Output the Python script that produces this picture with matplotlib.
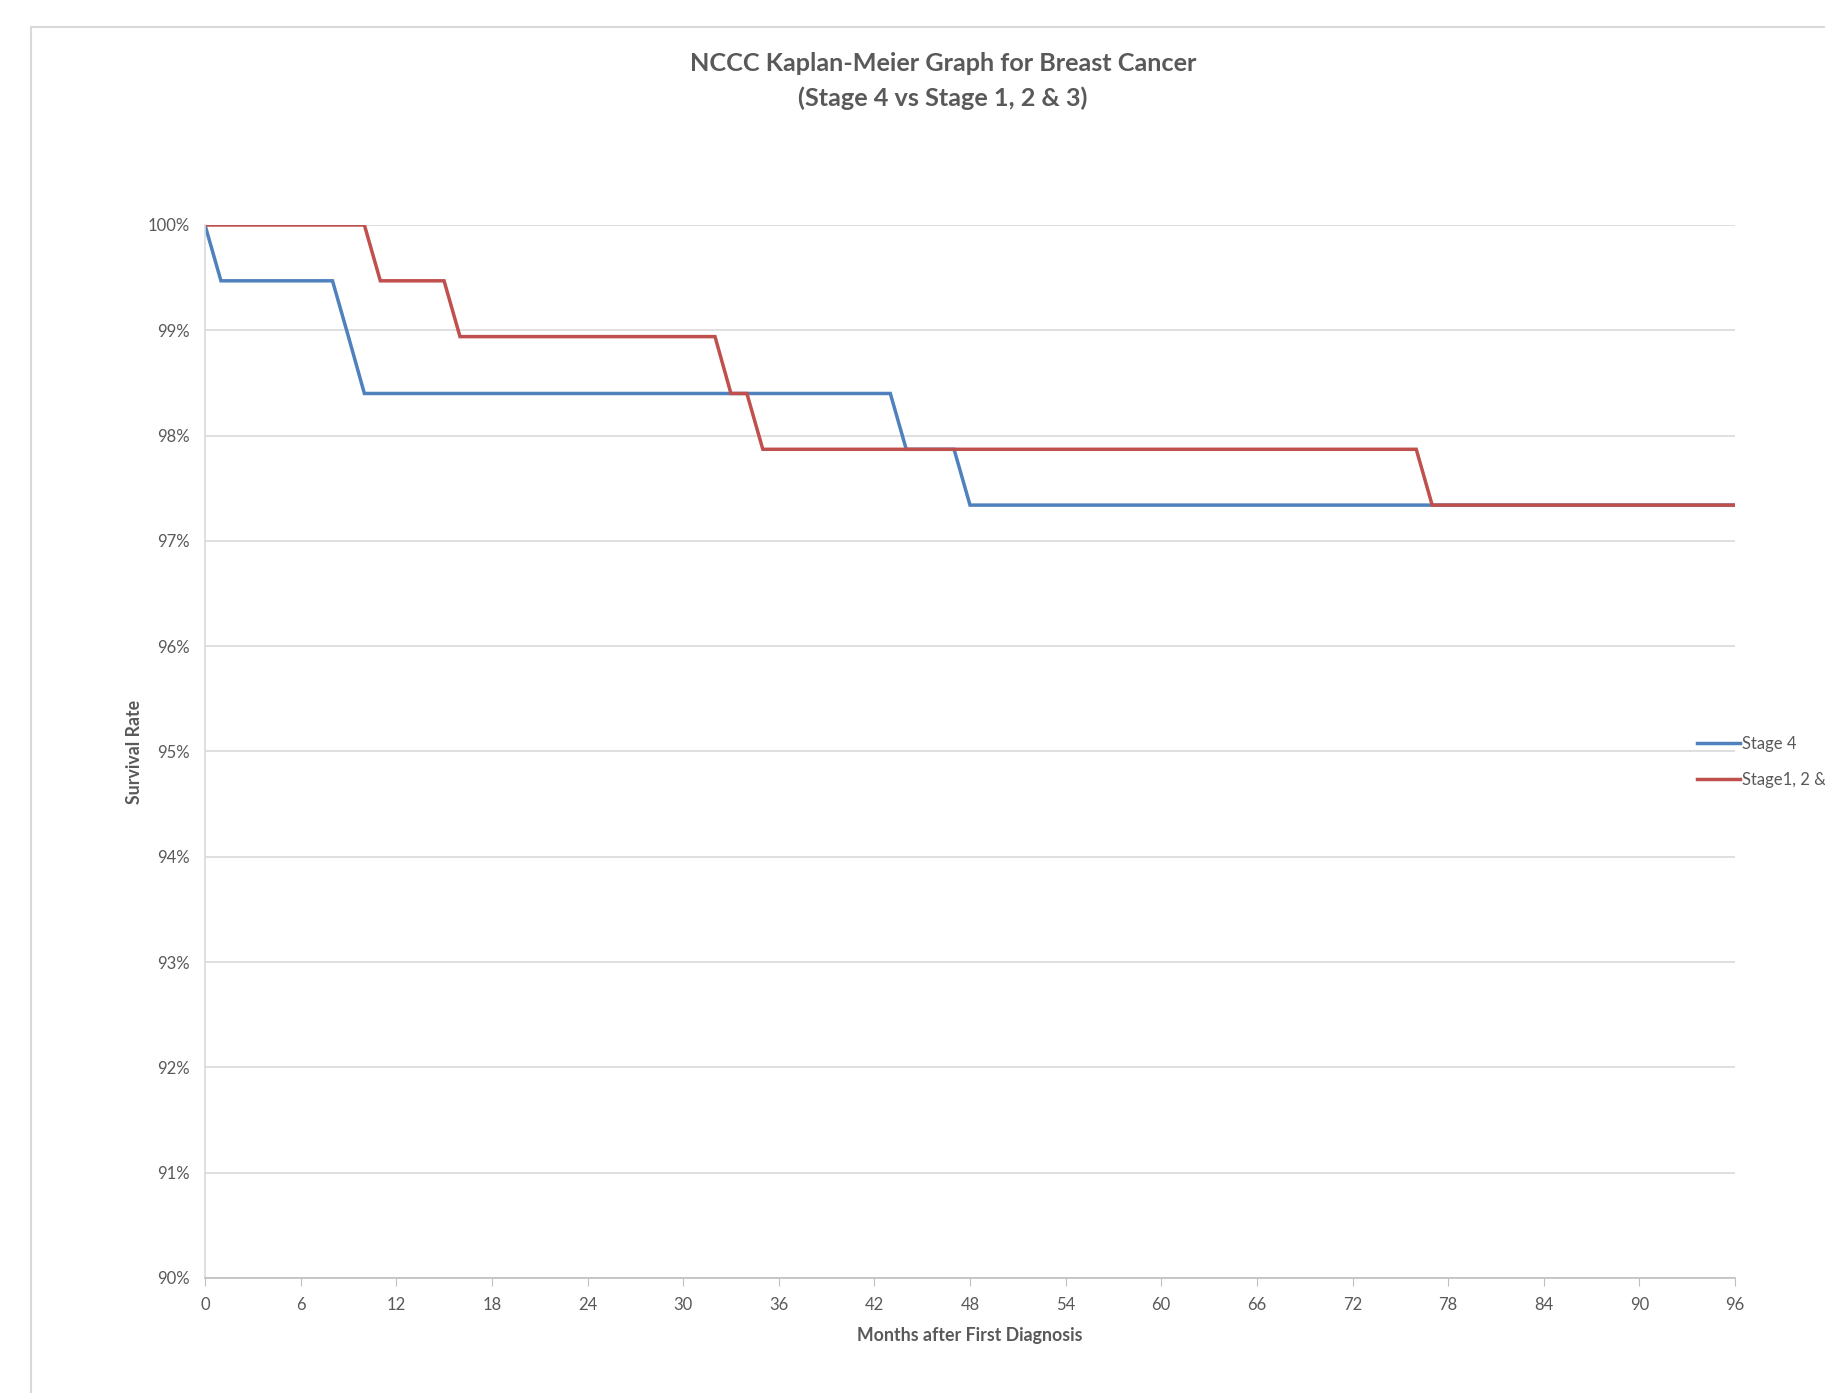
import matplotlib.pyplot as plt
from matplotlib.patches import Rectangle
from matplotlib.ticker import FuncFormatter

# survival (%) at the months where the curve changes slope
months_s4 = [0, 1, 8, 9, 10, 43, 44, 47, 48, 96]
surv_s4 = [100.0, 99.47, 99.47, 98.94, 98.40, 98.40, 97.87, 97.87, 97.34, 97.34]

months_s123 = [0, 10, 11, 15, 16, 32, 33, 34, 35, 76, 77, 96]
surv_s123 = [100.0, 100.0, 99.47, 99.47, 98.94, 98.94, 98.40, 98.40, 97.87, 97.87, 97.34, 97.34]

xticks = list(range(0, 97, 6))
yticks = list(range(90, 101))

plt.rcParams['font.family'] = ['Lato', 'DejaVu Sans']
grey = '#595959'

W, H = 1825, 1393
fig = plt.figure(figsize=(W / 100, H / 100), dpi=100)
ax = fig.add_axes([205 / W, 1 - 1278 / H, (1735 - 205) / W, (1278 - 225) / H])

# chart area border (cropped at right / bottom)
fig.patches.append(Rectangle((31 / W, -0.1), 1.2, 1 - 27 / H + 0.1, transform=fig.transFigure,
                             fill=False, edgecolor='#D9D9D9', linewidth=1.5))

ax.plot(months_s4, surv_s4, color='#4F81BD', lw=2.5, label='Stage 4', solid_joinstyle='miter')
ax.plot(months_s123, surv_s123, color='#C0504D', lw=2.5, label='Stage1, 2 & 3', solid_joinstyle='miter')

ax.set_xlim(0, 96)
ax.set_ylim(90, 100)
ax.set_xticks(xticks)
ax.set_yticks(yticks)
ax.yaxis.set_major_formatter(FuncFormatter(lambda v, p: '%d%%' % v))
ax.grid(axis='y', color='#D9D9D9', lw=1.2)
ax.set_axisbelow(True)
for s in ['top', 'right']:
    ax.spines[s].set_visible(False)
ax.spines['left'].set_color('#D9D9D9')
ax.spines['bottom'].set_color('#BFBFBF')
ax.spines['left'].set_linewidth(1.2)
ax.spines['bottom'].set_linewidth(1.2)
ax.tick_params(axis='y', length=0, labelsize=12, labelcolor=grey, pad=11)
ax.tick_params(axis='x', length=6, color='#BFBFBF', labelsize=12, labelcolor=grey, pad=8)

ax.set_xlabel('Months after First Diagnosis', fontsize=12.8, fontweight='bold', color=grey, labelpad=10)
ax.set_ylabel('Survival Rate', fontsize=12.8, fontweight='bold', color=grey, labelpad=3)

fig.text(943 / W, 1 - 81 / H, 'NCCC Kaplan-Meier Graph for Breast Cancer\n(Stage 4 vs Stage 1, 2 & 3)',
         ha='center', va='center', fontsize=18.2, fontweight='bold', color=grey, linespacing=1.6)

ax.legend(loc='center left', bbox_to_anchor=(1690 / W, 1 - 762 / H), bbox_transform=fig.transFigure,
          frameon=False, fontsize=12, labelcolor=grey, handlelength=2.6, handletextpad=0.1,
          labelspacing=1.2, borderaxespad=0)

fig.savefig('out.png', dpi=100)
